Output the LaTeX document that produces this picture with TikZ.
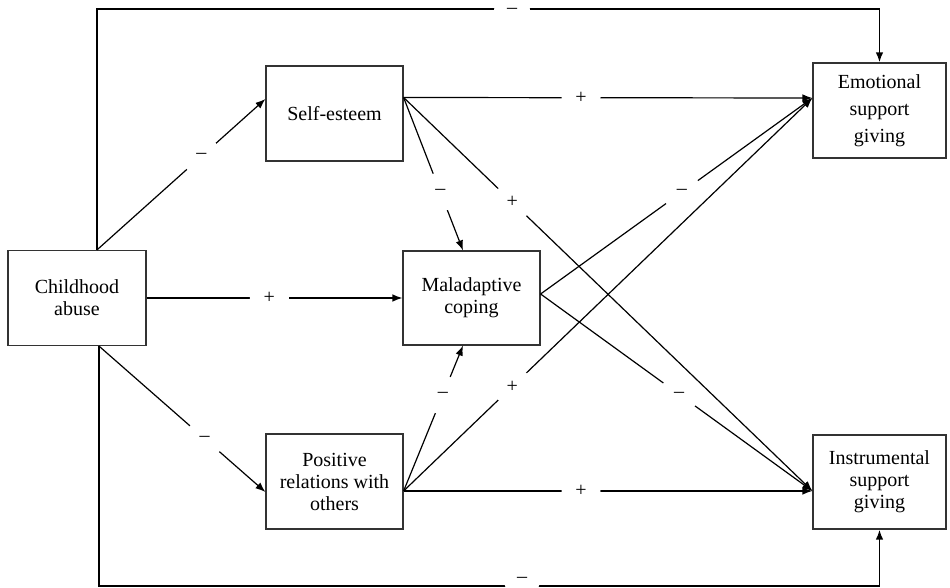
\documentclass[tikz,border=0pt]{standalone}
\usepackage{fontspec}
\setmainfont{Liberation Serif}
\usetikzlibrary{arrows.meta}
\tikzstyle{box} = [rectangle, draw=black!80, line width=0.6pt, minimum width=68.5pt, minimum height=47.5pt, inner sep=0pt, align=center, font=\fontsize{10}{11}\selectfont]
\tikzstyle{arrow} = [line width=0.6pt, -{Latex[length=5pt, width=3.8pt]}]
\tikzstyle{sign} = [circle, fill=white, inner sep=0pt, minimum size=19.5pt, font=\fontsize{10}{11}\selectfont]
\tikzstyle{feedback} = [line width=0.9pt, -{Latex[length=5pt, width=3.8pt]}]

\begin{document}
\begin{tikzpicture}[x=0.5pt, y=-0.5pt]
	\useasboundingbox (0,0) rectangle (950,588);
	% boxes
	\node[box, minimum width=69pt] (abuse) at (77,298) {Childhood\\abuse};
	\node[box] (esteem) at (334.5,113.5) {Self-esteem};
	\node[box, minimum height=47pt] (coping) at (471.5,298) {Maladaptive\\coping};
	\node[box] (relations) at (334.5,481.5) {Positive\\relations with\\others};
	\node[box, minimum width=66.5pt, font=\fontsize{10}{13.5}\selectfont] (emotional) at (879.5,110.5) {Emotional\\support\\giving};
	\node[box, minimum width=66.5pt, minimum height=47pt] (instrumental) at (879.5,482) {Instrumental\\support\\giving};
	\coordinate (topline) at (500,9);
	\coordinate (botline) at (500,586);
	% childhood abuse
	\draw[arrow] ([xshift=10pt]abuse.north) -- node[sign, pos=0.62] {--} ([yshift=7.25pt]esteem.west);
	\draw[arrow] (abuse.east) -- node[sign, pos=0.48] {+} (coping.west);
	\draw[arrow] ([xshift=11pt]abuse.south) -- node[sign, pos=0.635] {--} ([yshift=-5.25pt]relations.west);
	\draw[feedback] ([xshift=10pt]abuse.north) |- (topline) -| (emotional.north);
	\draw[feedback] ([xshift=11pt]abuse.south) |- (botline) -| (instrumental.south);
	\node[sign, minimum size=18pt] (toplbl) at (512,11) {--};
	\node[sign, minimum size=18pt] (botlbl) at (522,580) {--};
	% self-esteem
	\draw[arrow] ([yshift=8pt]esteem.east) -- node[sign, pos=0.434] {+} ([yshift=6.25pt]emotional.west);
	\draw[arrow] ([yshift=8pt]esteem.east) -- node[sign, pos=0.617] {--} ([xshift=-4.25pt]coping.north);
	\draw[arrow] ([yshift=8pt]esteem.east) -- node[sign, pos=0.266] {+} ([yshift=-4.5pt]instrumental.west);
	% maladaptive coping
	\draw[arrow] ([yshift=2pt]coping.east) -- node[sign, pos=0.52] {--} ([yshift=6.25pt]emotional.west);
	\draw[arrow] ([yshift=2pt]coping.east) -- node[sign, pos=0.51] {--} ([yshift=-4.5pt]instrumental.west);
	% positive relations
	\draw[arrow] ([yshift=-4.75pt]relations.east) -- node[sign, pos=0.66] {--} ([xshift=-4.25pt]coping.south);
	\draw[arrow] ([yshift=-4.75pt]relations.east) -- node[sign, pos=0.266] {+} ([yshift=6.25pt]emotional.west);
	\draw[arrow] ([yshift=-4.75pt]relations.east) -- node[sign, pos=0.434] {+} ([yshift=-4.5pt]instrumental.west);
\end{tikzpicture}
\end{document}
